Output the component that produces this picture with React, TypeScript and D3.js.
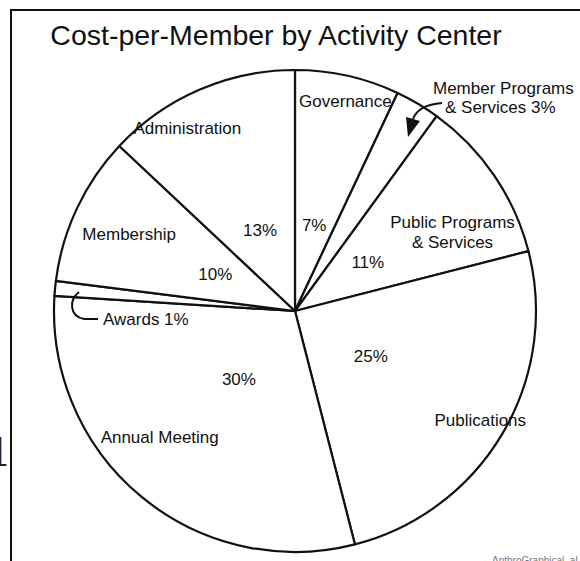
import React from "react";
import * as d3 from "d3";

// Slices clockwise from 12 o'clock
const categories = [
  "Governance",
  "Member Programs & Services",
  "Public Programs & Services",
  "Publications",
  "Annual Meeting",
  "Awards",
  "Membership",
  "Administration",
];
const shares = [7, 3, 11, 25, 30, 1, 10, 13];

// Name labels drawn inside slices: lines of text
const nameLines: Record<string, string[]> = {
  Governance: ["Governance"],
  "Public Programs & Services": ["Public Programs", "& Services"],
  Publications: ["Publications"],
  "Annual Meeting": ["Annual Meeting"],
  Membership: ["Membership"],
  Administration: ["Administration"],
};

// label placement (degrees clockwise from top, distance from centre)
const namePolar: Record<string, [number, number]> = {
  Governance: [13.5, 216],
  "Public Programs & Services": [63.5, 176],
  Publications: [120.5, 215],
  "Annual Meeting": [227, 185],
  Membership: [295, 183],
  Administration: [329.5, 212],
};

const W = 580, H = 561;
const cx = 295, cy = 311, R = 241;

const App = () => {
  const pie = d3.pie<number>().sort(null).value(d => d);
  const arcs = pie(shares);
  const arc = d3.arc<d3.PieArcDatum<number>>().innerRadius(0).outerRadius(R);
  const pctArc = d3.arc<d3.PieArcDatum<number>>().innerRadius(88).outerRadius(88);

  const font = "'Liberation Sans', Arial, Helvetica, sans-serif";
  const fs = 17;

  const polar = (deg: number, r: number) => {
    const a = (deg * Math.PI) / 180;
    return [cx + r * Math.sin(a), cy - r * Math.cos(a)];
  };

  return (
    <svg width={W} height={H} style={{ position: "absolute", left: 0, top: 0, background: "#fff" }}>
      <rect x={11} y={10} width={620} height={600} fill="#fff" stroke="#111" strokeWidth={2} />
      <text x={12} y={466} fontSize={40} fontFamily="'DejaVu Serif', serif" textAnchor="end" fill="#222">1</text>

      <text x={276} y={45} textAnchor="middle" fontFamily={font} fontSize={28.5} fill="#111">
        Cost-per-Member by Activity Center
      </text>

      <g transform={`translate(${cx},${cy})`}>
        {arcs.map((a, i) => (
          <path key={categories[i]} d={arc(a) || ""} fill="#fff" stroke="#111" strokeWidth={2.2} strokeLinejoin="round" />
        ))}
        {arcs.map((a, i) => {
          if (categories[i] === "Awards" || categories[i] === "Member Programs & Services") return null;
          const [x, y] = pctArc.centroid(a);
          return (
            <text key={"p" + i} x={x} y={y + 6} textAnchor="middle" fontFamily={font} fontSize={fs} fill="#111">
              {shares[i]}%
            </text>
          );
        })}
      </g>

      {categories.map(c => {
        if (!nameLines[c]) return null;
        const [x, y] = polar(namePolar[c][0], namePolar[c][1]);
        const lines = nameLines[c];
        return (
          <text key={c} x={x} y={y + 6 - (lines.length - 1) * 10} textAnchor="middle" fontFamily={font} fontSize={fs} fill="#111">
            {lines.map((l, j) => (
              <tspan key={j} x={x} dy={j === 0 ? 0 : 20}>{l}</tspan>
            ))}
          </text>
        );
      })}

      {/* call-outs for the narrow slices */}
      <text x={433} y={94} fontFamily={font} fontSize={fs} fill="#111">Member Programs</text>
      <text x={445} y={113} fontFamily={font} fontSize={fs} fill="#111">& Services  3%</text>
      <path d="M442,103 Q418,105 413,119" fill="none" stroke="#111" strokeWidth={2} />
      <path d="M406,117 L420,121 L408,137 Z" fill="#111" />

      <path d="M79,292 C69,300 69,316 84,319 L98,319" fill="none" stroke="#111" strokeWidth={2} />
      <text x={103} y={325} fontFamily={font} fontSize={fs} fill="#111">Awards 1%</text>

      <text x={492} y={564} fontFamily={font} fontSize={10} fill="#777">AnthroGraphical, al</text>
    </svg>
  );
};

export default App;
